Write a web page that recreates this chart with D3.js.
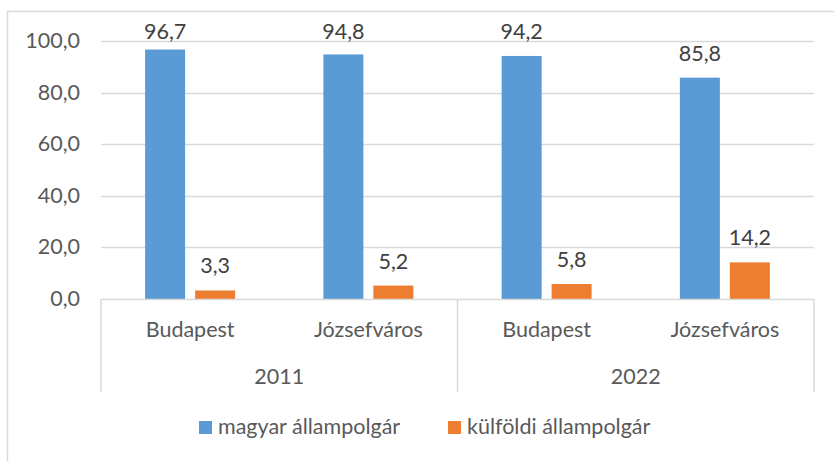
<!DOCTYPE html>
<html>
<head>
<meta charset="utf-8">
<script src="https://cdn.jsdelivr.net/npm/d3@7"></script>
<style>
  body { margin: 0; background: #fff; }
  svg { display: block; font-family: Lato, "Noto Sans", sans-serif; }
</style>
</head>
<body>
<div id="chart"></div>
<script>
// Data
const years = ['2011', '2022'];
const places = ['Budapest', 'Józsefváros'];
const seriesNames = ['magyar állampolgár', 'külföldi állampolgár'];
const magyar = [96.7, 94.8, 94.2, 85.8];
const kulfoldi = [3.3, 5.2, 5.8, 14.2];
const yTicks = [0, 20, 40, 60, 80, 100];

const colors = ['#5b9bd5', '#ed7d31'];
const textColor = '#595959';
const gridColor = '#d9d9d9';
const fontSize = '21.5px';

const width = 834, height = 461;
const margin = {top: 41, right: 20, bottom: 162, left: 101};
const plotW = 814 - margin.left;
const plotH = 299 - margin.top;

// rows: one per (year, place)
const rows = [];
years.forEach((yr, i) => {
  places.forEach((pl, j) => {
    const k = i * places.length + j;
    rows.push({key: yr + '|' + pl, year: yr, place: pl, values: [magyar[k], kulfoldi[k]]});
  });
});

const svg = d3.select('#chart').append('svg')
    .attr('width', width)
    .attr('height', height);

// outer chart border (clipped by the picture at right and bottom)
svg.append('rect')
    .attr('x', 7.5).attr('y', 11.5)
    .attr('width', 900).attr('height', 600)
    .attr('fill', 'none')
    .attr('stroke', gridColor)
    .attr('stroke-width', 1.5);

const chart = svg.append('g')
    .attr('transform', `translate(${margin.left},${margin.top})`);

const x0 = d3.scaleBand()
    .domain(rows.map(d => d.key))
    .range([0, plotW]);

const x1 = d3.scaleBand()
    .domain(seriesNames)
    .range([x0.bandwidth() / 2 - 45, x0.bandwidth() / 2 + 45])
    .paddingInner(0.2);

const y = d3.scaleLinear()
    .domain([0, 100])
    .range([plotH, 0]);

// gridlines
chart.selectAll('.grid')
    .data(yTicks.filter(t => t > 0))
  .join('line')
    .attr('class', 'grid')
    .attr('x1', 0).attr('x2', plotW)
    .attr('y1', d => Math.round(y(d)) + 0.5)
    .attr('y2', d => Math.round(y(d)) + 0.5)
    .attr('stroke', gridColor)
    .attr('stroke-width', 1.3);

// y tick labels
chart.selectAll('.ytick')
    .data(yTicks)
  .join('text')
    .attr('class', 'ytick')
    .attr('x', -21)
    .attr('y', d => y(d) + 7)
    .attr('text-anchor', 'end')
    .attr('fill', textColor)
    .style('font-size', fontSize)
    .text(d => d3.format('.1f')(d).replace('.', ','));

// bars
const groups = chart.selectAll('.cat')
    .data(rows)
  .join('g')
    .attr('class', 'cat')
    .attr('transform', d => `translate(${x0(d.key)},0)`);

groups.selectAll('rect')
    .data(d => d.values.map((v, i) => ({name: seriesNames[i], value: v, i})))
  .join('rect')
    .attr('x', d => x1(d.name))
    .attr('width', x1.bandwidth())
    .attr('y', d => y(d.value))
    .attr('height', d => plotH - y(d.value))
    .attr('fill', d => colors[d.i]);

// data labels (kept inside the chart area like Excel does)
groups.selectAll('.lbl')
    .data(d => d.values.map((v, i) => ({name: seriesNames[i], value: v})))
  .join('text')
    .attr('class', 'lbl')
    .attr('x', d => x1(d.name) + x1.bandwidth() / 2)
    .attr('y', d => Math.max(y(d.value) - 17, -2))
    .attr('text-anchor', 'middle')
    .attr('fill', '#404040')
    .style('font-size', fontSize)
    .text(d => d3.format('.1f')(d.value).replace('.', ','));

// category axis line
chart.append('line')
    .attr('x1', 0).attr('x2', plotW)
    .attr('y1', plotH + 0.5).attr('y2', plotH + 0.5)
    .attr('stroke', gridColor)
    .attr('stroke-width', 1.5);

// group separators
const groupW = plotW / years.length;
chart.selectAll('.sep')
    .data(d3.range(years.length + 1))
  .join('line')
    .attr('class', 'sep')
    .attr('x1', d => d * groupW).attr('x2', d => d * groupW)
    .attr('y1', plotH).attr('y2', plotH + 93)
    .attr('stroke', gridColor)
    .attr('stroke-width', 1.5);

// place labels
chart.selectAll('.place')
    .data(rows)
  .join('text')
    .attr('class', 'place')
    .attr('x', d => x0(d.key) + x0.bandwidth() / 2)
    .attr('y', plotH + 38)
    .attr('text-anchor', 'middle')
    .attr('fill', textColor)
    .style('font-size', fontSize)
    .text(d => d.place);

// year labels
chart.selectAll('.year')
    .data(years)
  .join('text')
    .attr('class', 'year')
    .attr('x', (d, i) => (i + 0.5) * groupW)
    .attr('y', plotH + 85)
    .attr('text-anchor', 'middle')
    .attr('fill', textColor)
    .style('font-size', fontSize)
    .text(d => d);

// legend
const legendX = [199, 448];
const legend = svg.selectAll('.legend')
    .data(seriesNames)
  .join('g')
    .attr('class', 'legend')
    .attr('transform', (d, i) => `translate(${legendX[i]},421)`);

legend.append('rect')
    .attr('width', 13).attr('height', 13)
    .attr('fill', (d, i) => colors[i]);

legend.append('text')
    .attr('x', 19)
    .attr('y', 13)
    .attr('fill', textColor)
    .style('font-size', fontSize)
    .text(d => d);
</script>
</body>
</html>
